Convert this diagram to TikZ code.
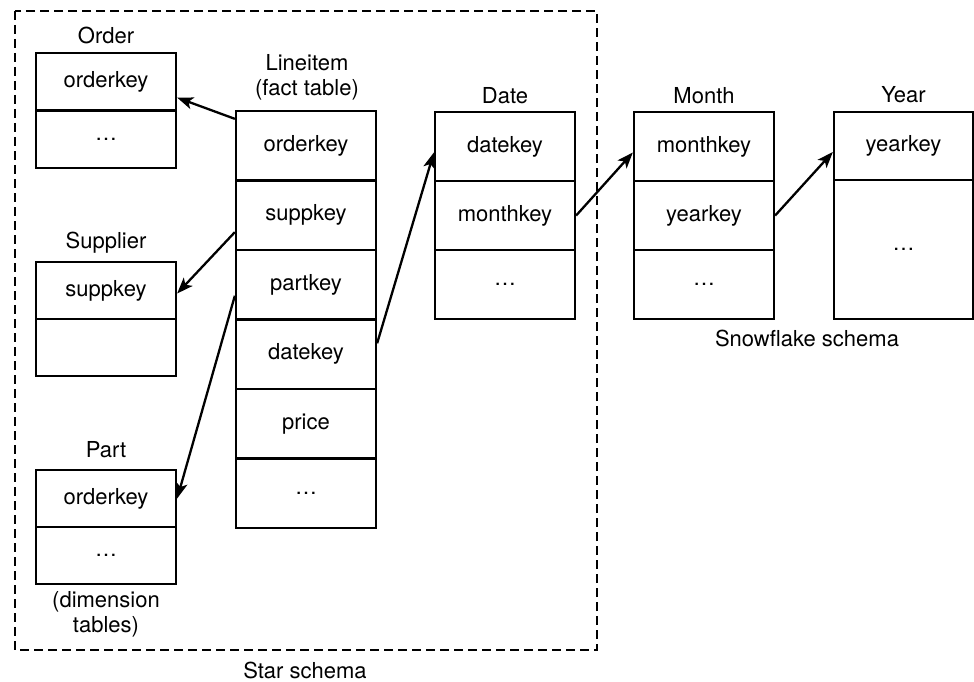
\documentclass[tikz,border=0pt]{standalone}
\usepackage{fontspec}
\setmainfont{TeX Gyre Heros}
\usetikzlibrary{arrows.meta}

\begin{document}
\begin{tikzpicture}[x=1pt, y=-1pt,
  every node/.style={font=\fontsize{22}{25}\selectfont},
  cell/.style={draw, line width=2.3pt, inner sep=0pt, minimum width=140pt},
  dimcell/.style={cell, minimum height=57.5pt},
  snowcell/.style={cell, minimum height=69pt},
  factcell/.style={cell, minimum height=69.5pt},
  title/.style={inner sep=0pt, align=center},
  link/.style={line width=2.3pt, -{Stealth[length=16pt, width=12pt, inset=4pt]}},
  frame/.style={line width=2.3pt, dash pattern=on 9pt off 5pt}
]
\useasboundingbox (0,0) rectangle (974,682);

% star schema frame
\draw[frame] (15,11) rectangle (597,650);
\node[title] (starlbl) at (305,670) {Star schema};

% dimension tables
\node[title] (ordertitle) at (106,35) {Order};
\node[dimcell] (o1) at (106,81.75) {orderkey};
\node[dimcell] (o2) at (106,139.25) {…};

\node[title] (suptitle) at (106,243) {Supplier};
\node[dimcell] (s1) at (106,290.5) {suppkey};
\node[dimcell] (s2) at (106,347.5) {};

\node[title] (parttitle) at (106,450) {Part};
\node[dimcell] (p1) at (106,498.5) {orderkey};
\node[dimcell] (p2) at (106,555.5) {…};
\node[title] (dimlbl) at (106,614) {(dimension\\tables)};

% fact table
\node[title] (facttitle) at (307,77) {Lineitem\\(fact table)};
\node[factcell] (li1) at (306,145.75) {orderkey};
\node[factcell] (li2) at (306,215.25) {suppkey};
\node[factcell] (li3) at (306,284.75) {partkey};
\node[factcell] (li4) at (306,354.25) {datekey};
\node[factcell] (li5) at (306,423.75) {price};
\node[factcell] (li6) at (306,493.25) {…};

% snowflake part
\node[title] (datetitle) at (505,96) {Date};
\node[snowcell] (d1) at (505,146.5) {datekey};
\node[snowcell] (d2) at (505,215.5) {monthkey};
\node[snowcell] (d3) at (505,284.5) {…};

\node[title] (monthtitle) at (704,96) {Month};
\node[snowcell] (m1) at (704,146.5) {monthkey};
\node[snowcell] (m2) at (704,215.5) {yearkey};
\node[snowcell] (m3) at (704,284.5) {…};

\node[title] (yeartitle) at (903.5,95) {Year};
\node[cell, minimum width=139pt, minimum height=68pt] (y1) at (903.5,146) {yearkey};
\node[cell, minimum width=139pt, minimum height=139pt] (y2) at (903.5,249.5) {…};

\node[title] (snowlbl) at (807,338) {Snowflake schema};

% key references
\draw[link] ([yshift=-9pt]li1.north west) -- ([yshift=14pt]o1.south east);
\draw[link] ([yshift=19pt]li2.south west) -- ([yshift=-3pt]s1.east);
\draw[link] ([yshift=-11pt]li3.west) -- (p1.east);
\draw[link] ([yshift=11pt]li4.east) -- ([yshift=-6pt]d1.west);
\draw[link] (d2.east) -- ([yshift=-6pt]m1.west);
\draw[link] (m2.east) -- ([yshift=-6pt]y1.west);
\end{tikzpicture}
\end{document}
